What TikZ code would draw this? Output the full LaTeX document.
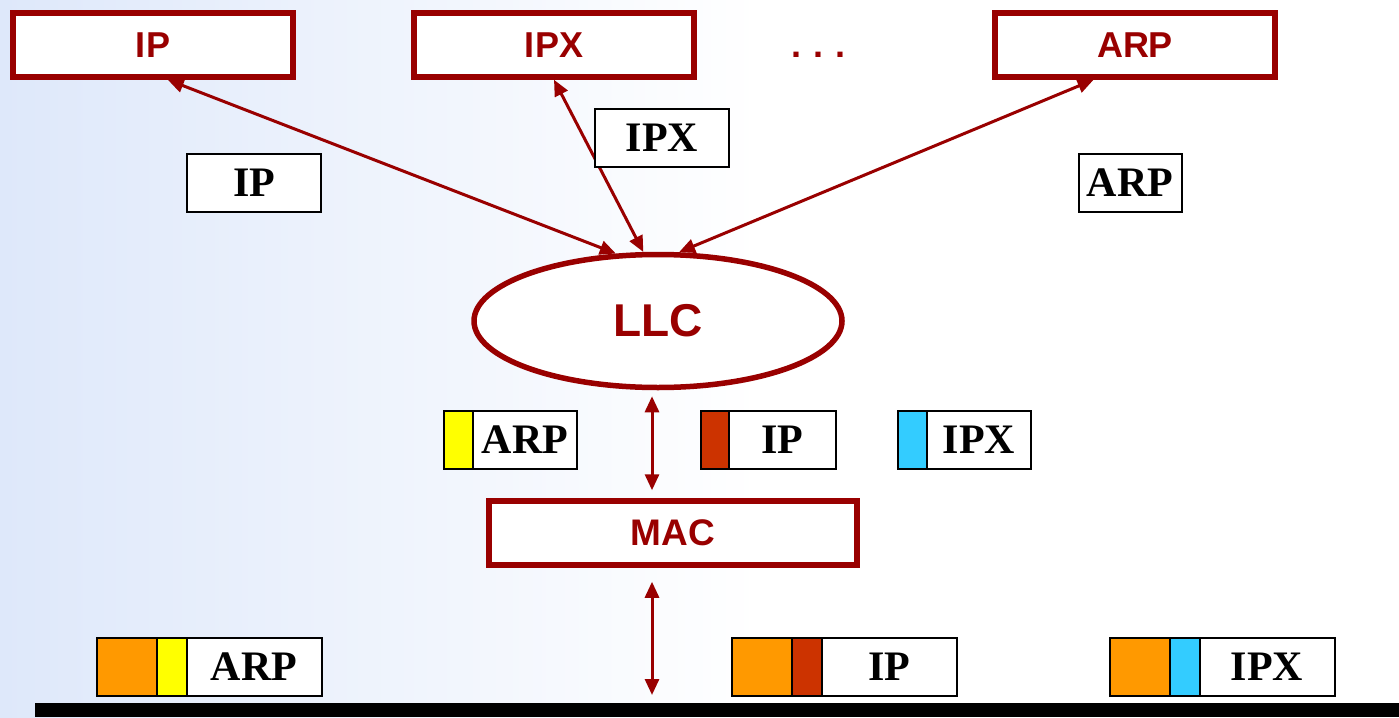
\documentclass[tikz,border=0pt]{standalone}
\usepackage{fontspec}
\setmainfont{Liberation Serif}
\setsansfont{Liberation Sans}
\usetikzlibrary{positioning,shapes.geometric,arrows.meta}
\definecolor{darkred}{RGB}{153,0,0}
\definecolor{bgblue}{RGB}{222,232,250}
\definecolor{hdrorange}{RGB}{255,153,0}
\definecolor{hdryellow}{RGB}{255,255,0}
\definecolor{hdrred}{RGB}{204,51,0}
\definecolor{hdrcyan}{RGB}{51,204,255}
\tikzset{
  protobox/.style={draw=darkred,line width=5.5pt,fill=white,minimum width=280pt,
    minimum height=64pt,inner sep=0pt,text=darkred,
    font=\sffamily\bfseries\fontsize{36}{40}\selectfont},
  tagbox/.style={draw=black,line width=2pt,fill=white,minimum height=58pt,
    inner sep=0pt,outer sep=0pt,font=\rmfamily\bfseries\fontsize{42}{46}\selectfont},
  hdr/.style={draw=black,line width=2pt,fill=#1,minimum height=58pt,
    inner sep=0pt,outer sep=0pt},
  link/.style={draw=darkred,line width=3pt,
    {Triangle[length=16pt,width=14pt]}-{Triangle[length=16pt,width=14pt]}}
}

\begin{document}
\begin{tikzpicture}[x=1pt,y=-1pt]
  \useasboundingbox (0,0) rectangle (1399,717);
  \shade [left color=bgblue,right color=white] (0,0) rectangle (760,717);

  % upper layer protocols
  \node [protobox] (ipTop)  at (153,45)  {IP};
  \node [protobox] (ipxTop) at (554,45)  {IPX};
  \node [protobox] (arpTop) at (1135,45) {ARP};
  \node [text=darkred,font=\sffamily\bfseries\fontsize{36}{40}\selectfont] (dots) at (818,55)
    {.\hspace{12pt}.\hspace{12pt}.};

  \node [ellipse,draw=darkred,line width=5.5pt,fill=white,minimum width=368pt,
    minimum height=133pt,inner sep=0pt,text=darkred,
    font=\sffamily\bfseries\fontsize{46}{50}\selectfont] (llc) at (658,321) {LLC};
  \node [protobox,minimum width=368pt,font=\sffamily\bfseries\fontsize{37}{40}\selectfont] (mac) at (673,533) {MAC};

  \node [fill=black,minimum width=1364pt,minimum height=14pt,inner sep=0pt,outer sep=0pt] (bar) at (717,710) {};
  \coordinate (axis) at (652,0);

  \draw [link] (ipTop.-67) -- (llc.122);
  \draw [link] (ipxTop.south) -- (llc.102);
  \draw [link] (arpTop.-140) -- (llc.73);
  \draw [link,shorten <=6pt,shorten >=8pt] (axis |- llc.south) -- (axis |- mac.north);
  \draw [link,shorten <=14pt,shorten >=8pt] (axis |- mac.south) -- (axis |- bar.north);

  % payload tags
  \node [tagbox,minimum width=134pt] (ipTag)  at (254,183)  {IP};
  \node [tagbox,minimum width=134pt] (ipxTag) at (662,138)  {IPX};
  \node [tagbox,minimum width=103pt] (arpTag) at (1130,183) {ARP};

  % LLC frames
  \node [tagbox,minimum width=104pt] (arpLlc) at (525,440) {ARP};
  \node [hdr=hdryellow,minimum width=29pt,left=0pt of arpLlc] (arpLlcH) {};
  \node [tagbox,minimum width=107pt] (ipLlc) at (782,440) {IP};
  \node [hdr=hdrred,minimum width=28pt,left=0pt of ipLlc] (ipLlcH) {};
  \node [tagbox,minimum width=104pt] (ipxLlc) at (979,440) {IPX};
  \node [hdr=hdrcyan,minimum width=29pt,left=0pt of ipxLlc] (ipxLlcH) {};

  % MAC frames
  \node [tagbox,minimum width=135pt] (arpMac) at (254,667) {ARP};
  \node [hdr=hdryellow,minimum width=30pt,left=0pt of arpMac] (arpMacH) {};
  \node [hdr=hdrorange,minimum width=60pt,left=0pt of arpMacH] (arpMacO) {};
  \node [tagbox,minimum width=135pt] (ipMac) at (889,667) {IP};
  \node [hdr=hdrred,minimum width=30pt,left=0pt of ipMac] (ipMacH) {};
  \node [hdr=hdrorange,minimum width=60pt,left=0pt of ipMacH] (ipMacO) {};
  \node [tagbox,minimum width=135pt] (ipxMac) at (1267,667) {IPX};
  \node [hdr=hdrcyan,minimum width=30pt,left=0pt of ipxMac] (ipxMacH) {};
  \node [hdr=hdrorange,minimum width=60pt,left=0pt of ipxMacH] (ipxMacO) {};
\end{tikzpicture}
\end{document}
